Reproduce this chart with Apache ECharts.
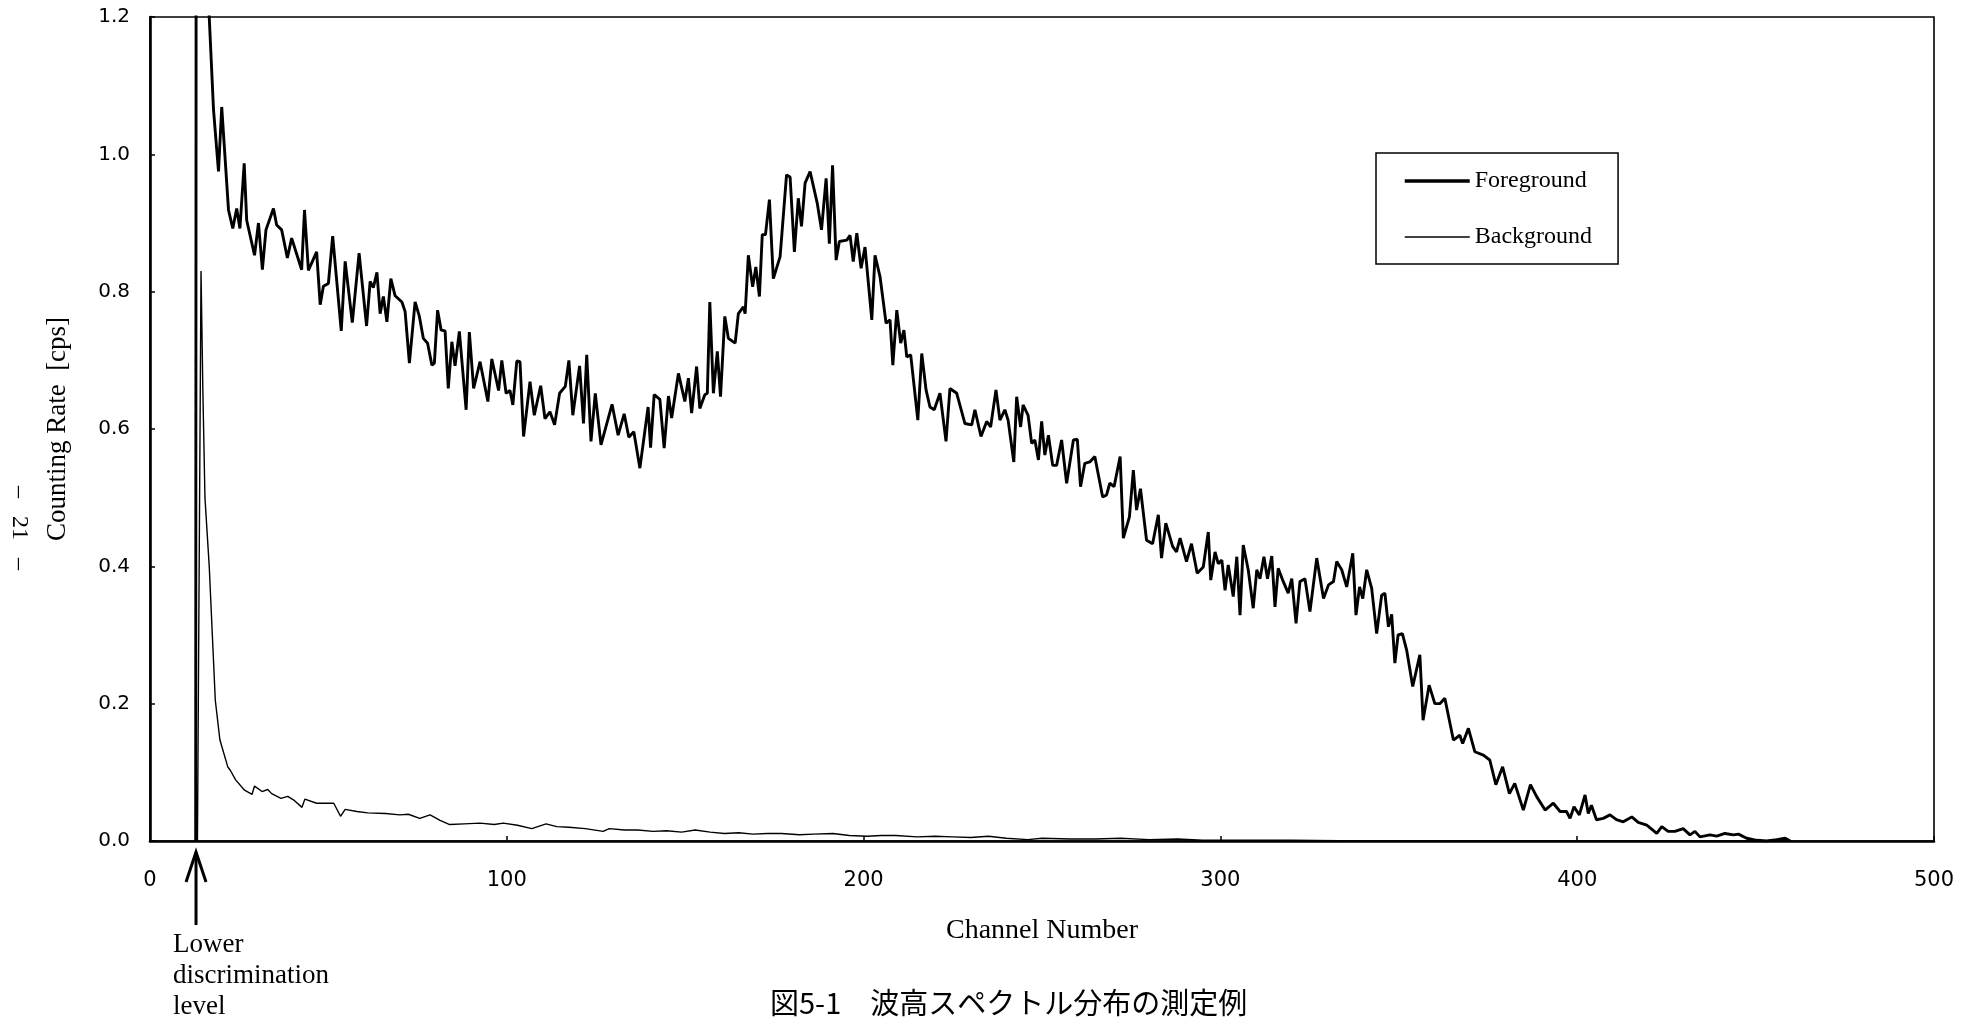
<!DOCTYPE html>
<html>
<head>
<meta charset="utf-8">
<script src="https://cdn.jsdelivr.net/npm/echarts@6/dist/echarts.min.js"></script>
<style>
html,body{margin:0;padding:0;background:#fff;}
#c{width:1978px;height:1024px;}
</style>
</head>
<body>
<div id="c"></div>
<script>
// ---- data (channel, counting rate [cps]) ----
const xTicks = [0, 100, 200, 300, 400, 500];
const yTicks = [0.0, 0.2, 0.4, 0.6, 0.8, 1.0, 1.2];
const lowerDiscriminationChannel = 12.9;

const foreground = [
[12.8,0],[13.2,4.0],[15,2.2],[16,1.45],[16.6,1.2],[17.8,1.065],[19.2,0.975],[20.1,1.069],[22,0.919],[23.2,0.892],
[24.3,0.921],[25.2,0.892],[26.4,0.987],[27.1,0.904],[29.3,0.853],[30.4,0.900],[31.5,0.832],[32.5,0.890],[34.6,0.921],[35.5,0.897],
[36.9,0.890],[38.5,0.849],[39.7,0.878],[42.5,0.832],[43.3,0.919],[44.4,0.831],[46.7,0.858],[47.7,0.781],[48.6,0.808],[50,0.812],
[51.2,0.881],[53.6,0.743],[54.7,0.844],[56.7,0.755],[58.6,0.856],[60.7,0.750],[61.7,0.815],[62.6,0.806],[63.6,0.828],[64.5,0.768],
[65.4,0.793],[66.4,0.756],[67.5,0.819],[68.7,0.794],[70.6,0.785],[71.5,0.771],[72.7,0.696],[74.3,0.785],[75.5,0.764],[76.6,0.732],
[77.8,0.725],[79,0.693],[79.7,0.696],[80.6,0.773],[81.6,0.744],[82.7,0.743],[83.6,0.659],[84.6,0.727],[85.5,0.692],[86.7,0.742],
[88.6,0.628],[89.5,0.741],[90.7,0.659],[92.5,0.698],[94.7,0.640],[95.8,0.702],[97.7,0.656],[98.6,0.700],[99.8,0.652],[100.9,0.656],
[101.7,0.635],[102.8,0.699],[103.7,0.698],[104.7,0.589],[106.5,0.669],[107.7,0.620],[109.5,0.663],[110.7,0.615],[112.1,0.625],[113.4,0.606],
[114.8,0.652],[116.4,0.662],[117.4,0.700],[118.5,0.620],[120.4,0.692],[121.5,0.608],[122.4,0.708],[123.6,0.582],[124.8,0.652],[126.4,0.577],
[129.5,0.636],[131.2,0.591],[132.9,0.622],[134.2,0.588],[135.6,0.596],[137.3,0.543],[139.6,0.632],[140.3,0.573],[141.3,0.650],[142.9,0.643],
[144.1,0.572],[145.3,0.648],[146.2,0.616],[148.1,0.681],[149.9,0.640],[150.9,0.674],[151.8,0.623],[153.2,0.691],[154.1,0.630],[155.5,0.650],
[156.2,0.652],[156.9,0.785],[157.9,0.652],[159,0.713],[159.9,0.647],[161.1,0.764],[162.1,0.732],[164,0.725],[164.9,0.768],[166.3,0.778],
[166.8,0.768],[167.7,0.853],[168.9,0.807],[169.8,0.836],[170.8,0.793],[171.6,0.883],[172.5,0.883],[173.6,0.934],[174.7,0.819],[176.6,0.851],
[178.4,0.970],[179.4,0.967],[180.6,0.858],[181.7,0.936],[182.6,0.895],[183.6,0.958],[185,0.975],[187,0.929],[188.2,0.890],[189.5,0.965],
[190.4,0.870],[191.3,0.984],[192.3,0.846],[193.2,0.873],[195.3,0.875],[196.2,0.882],[197.1,0.844],[198.1,0.885],[199.3,0.834],[200.4,0.865],
[202.3,0.759],[203.2,0.853],[204.6,0.822],[206.3,0.754],[207.4,0.759],[208.2,0.693],[209.3,0.773],[210.4,0.725],[211.3,0.744],[212.1,0.705],
[213.2,0.708],[215.2,0.613],[216.3,0.710],[217.5,0.657],[218.6,0.632],[219.8,0.628],[221.4,0.652],[223.1,0.582],[224.2,0.659],[226.1,0.652],
[228.4,0.608],[230.3,0.606],[231.2,0.628],[232.9,0.589],[234.5,0.611],[235.6,0.603],[237.1,0.657],[238.2,0.613],[239.6,0.628],[240.5,0.613],
[242.1,0.552],[242.9,0.647],[244,0.603],[244.7,0.635],[246.1,0.620],[247.1,0.579],[248,0.584],[249,0.555],[249.9,0.611],[250.8,0.562],
[251.8,0.591],[253,0.547],[254.1,0.547],[255.5,0.584],[256.9,0.521],[258.8,0.584],[259.9,0.585],[260.8,0.516],[262,0.550],[263.4,0.552],
[264.8,0.560],[267,0.501],[268.1,0.504],[269,0.521],[270.2,0.516],[271.9,0.560],[272.8,0.441],[274.5,0.472],[275.6,0.540],[276.5,0.482],
[277.6,0.513],[279.3,0.438],[281,0.433],[282.6,0.475],[283.5,0.412],[284.7,0.463],[286.6,0.429],[287.7,0.421],[288.7,0.441],[290.5,0.407],
[291.9,0.433],[293.5,0.390],[295.2,0.399],[296.6,0.450],[297.3,0.380],[298.5,0.421],[299.4,0.404],[300.4,0.409],[301.3,0.365],[302.2,0.402],
[303.6,0.356],[304.6,0.414],[305.5,0.329],[306.4,0.431],[307.8,0.395],[309.2,0.339],[310.2,0.395],[311.1,0.382],[312.2,0.414],[313.2,0.382],
[314.4,0.415],[315.3,0.341],[316.2,0.397],[317.6,0.378],[319,0.361],[320,0.382],[321.2,0.317],[322.3,0.378],[323.7,0.382],[325.1,0.334],
[327,0.412],[328.9,0.353],[330.3,0.373],[331.7,0.378],[332.6,0.407],[334,0.395],[335.4,0.370],[337.1,0.419],[338,0.329],[339,0.370],
[339.9,0.353],[341,0.395],[342.4,0.368],[343.8,0.302],[345.2,0.358],[346.1,0.361],[347.1,0.312],[348,0.330],[348.9,0.259],[349.8,0.300],
[351,0.302],[352.2,0.278],[353.9,0.225],[355.9,0.271],[356.8,0.176],[358.5,0.227],[360.1,0.200],[361.5,0.200],[362.9,0.208],[365.3,0.147],
[367.1,0.154],[367.9,0.142],[369.5,0.164],[371.3,0.130],[373.7,0.125],[375.5,0.118],[377.2,0.082],[379.1,0.108],[381,0.069],[382.5,0.084],
[384.9,0.045],[386.9,0.082],[388.6,0.065],[391,0.045],[393.3,0.055],[395.2,0.043],[397,0.043],[398,0.033],[399.1,0.050],[400.6,0.038],
[402.2,0.067],[403.1,0.040],[404,0.052],[405.4,0.031],[407.3,0.033],[409.2,0.038],[411,0.031],[412.9,0.028],[415.3,0.035],[417.1,0.027],
[419.5,0.023],[422.3,0.011],[423.7,0.021],[425.5,0.014],[427.4,0.014],[429.7,0.018],[431.6,0.009],[433,0.014],[434.4,0.006],[437.2,0.009],
[439.1,0.007],[441.4,0.011],[443.8,0.009],[445.2,0.010],[447.5,0.004],[450.3,0.001],[453.1,0.0],[455.9,0.002],[458.3,0.004],[459.7,0.0]
];

const background = [
[13.3,0],[14.3,0.83],[14.8,0.66],[15.4,0.50],[16.6,0.40],[18.3,0.205],[19.6,0.147],[21.8,0.108],[22.5,0.103],[24,0.089],
[26.5,0.074],[28.6,0.068],[29.3,0.080],[31.4,0.072],[33,0.075],[34.1,0.069],[36.7,0.062],[38.6,0.065],[40.2,0.060],[42.6,0.049],
[43.4,0.061],[46.7,0.055],[51.5,0.055],[53.4,0.036],[54.7,0.046],[58,0.043],[61,0.041],[66,0.040],[70,0.038],[72.4,0.039],
[75.6,0.033],[78.5,0.038],[81.3,0.030],[84,0.024],[88,0.025],[92.5,0.026],[96.5,0.024],[99,0.026],[103,0.023],[107,0.018],
[111,0.025],[114,0.021],[117.4,0.020],[122,0.018],[127,0.014],[128.7,0.018],[133,0.016],[136.7,0.016],[141,0.014],[144.8,0.015],
[149,0.013],[152.8,0.016],[157,0.013],[161,0.011],[165,0.012],[169,0.010],[173,0.011],[177,0.011],[182,0.009],[186,0.010],
[191.4,0.011],[196,0.008],[201,0.007],[205,0.008],[209,0.008],[215,0.006],[220,0.007],[225,0.006],[230,0.005],[235,0.007],
[240,0.004],[246,0.002],[250,0.004],[258,0.003],[265,0.003],[272,0.004],[280,0.002],[288,0.003],[295,0.001],[305,0.001],
[320,0.001],[340,0],[400,0],[460,0]
];

const seriesNames = ['Foreground', 'Background'];
const xName = 'Channel Number';
const yName = 'Counting Rate  [cps]';
const captionText = '図5-1\u3000波高スペクトル分布の測定例';
const lldText = 'Lower\ndiscrimination\nlevel';
const pageText = '–   21   –';

// ---- chart ----
const serif = '"Liberation Serif", "Times New Roman", serif';
const sans = '"DejaVu Sans", Verdana, sans-serif';

const chart = echarts.init(document.getElementById('c'), null, {renderer: 'canvas'});

const option = {
  backgroundColor: '#ffffff',
  animation: false,
  title: {
    text: captionText,
    left: 770,
    top: 988,
    padding: 0,
    textStyle: {fontFamily: '"Noto Sans CJK JP", sans-serif', fontSize: 29, fontWeight: 'normal', color: '#000'}
  },
  grid: {
    left: 150, right: 44, top: 17, bottom: 183,
    show: true, borderColor: '#000', borderWidth: 1.6, backgroundColor: 'transparent'
  },
  legend: {
    orient: 'vertical',
    left: 1376, top: 153,
    padding: [15, 26, 14, 27],
    itemWidth: 65, itemHeight: 14, itemGap: 30,
    backgroundColor: '#fff', borderColor: '#000', borderWidth: 1.5,
    itemStyle: {opacity: 0},
    textStyle: {fontFamily: serif, fontSize: 24, color: '#000', lineHeight: 26},
    data: [
      {name: seriesNames[0], lineStyle: {width: 3.5, color: '#000'}},
      {name: seriesNames[1], lineStyle: {width: 1.3, color: '#000'}}
    ]
  },
  xAxis: {
    type: 'value', min: xTicks[0], max: xTicks[xTicks.length - 1], interval: xTicks[1] - xTicks[0],
    name: xName, nameLocation: 'middle', nameGap: 76,
    nameTextStyle: {fontFamily: serif, fontSize: 28, color: '#000'},
    axisLine: {show: true, lineStyle: {color: '#000', width: 2.6}},
    axisTick: {show: true, inside: true, length: 5, lineStyle: {color: '#000', width: 1.5}},
    axisLabel: {margin: 29, fontFamily: sans, fontSize: 21, color: '#000'},
    splitLine: {show: false}
  },
  yAxis: {
    type: 'value', min: yTicks[0], max: yTicks[yTicks.length - 1], interval: yTicks[1] - yTicks[0],
    name: yName, nameLocation: 'middle', nameGap: 79, nameRotate: 90,
    nameTextStyle: {fontFamily: serif, fontSize: 27, color: '#000'},
    axisLine: {show: true, lineStyle: {color: '#000', width: 2.6}},
    axisTick: {show: true, inside: true, length: 5, lineStyle: {color: '#000', width: 1.5}},
    axisLabel: {margin: 20, fontFamily: sans, fontSize: 20, color: '#000', formatter: v => v.toFixed(1)},
    splitLine: {show: false}
  },
  series: [
    {
      name: seriesNames[0], type: 'line', data: foreground, symbol: 'none', clip: true,
      lineStyle: {color: '#000', width: 2.9}, itemStyle: {color: '#000'}, z: 3
    },
    {
      name: seriesNames[1], type: 'line', data: background, symbol: 'none', clip: true,
      lineStyle: {color: '#000', width: 1.4}, itemStyle: {color: '#000'}, z: 2
    }
  ]
};
chart.setOption(option);

// annotation anchored to the lower discrimination channel on the x axis
const p = chart.convertToPixel({gridIndex: 0}, [lowerDiscriminationChannel, 0]);
chart.setOption({
  graphic: [
    {type: 'line', shape: {x1: p[0], y1: p[1] + 11, x2: p[0], y2: p[1] + 84},
     style: {stroke: '#000', lineWidth: 3}},
    {type: 'polyline', shape: {points: [[p[0] - 10, p[1] + 41], [p[0], p[1] + 11], [p[0] + 10, p[1] + 41]]},
     style: {stroke: '#000', lineWidth: 3, fill: null}},
    {type: 'text', x: p[0] - 23, y: p[1] + 88,
     style: {text: lldText, font: '27px ' + serif, lineHeight: 31, fill: '#000', textAlign: 'left', textVerticalAlign: 'top'}},
    {type: 'text', x: 19, y: 528, rotation: -Math.PI / 2,
     style: {text: pageText, font: '24px ' + serif, fill: '#000', textAlign: 'center', textVerticalAlign: 'middle'}}
  ]
});
</script>
</body>
</html>
